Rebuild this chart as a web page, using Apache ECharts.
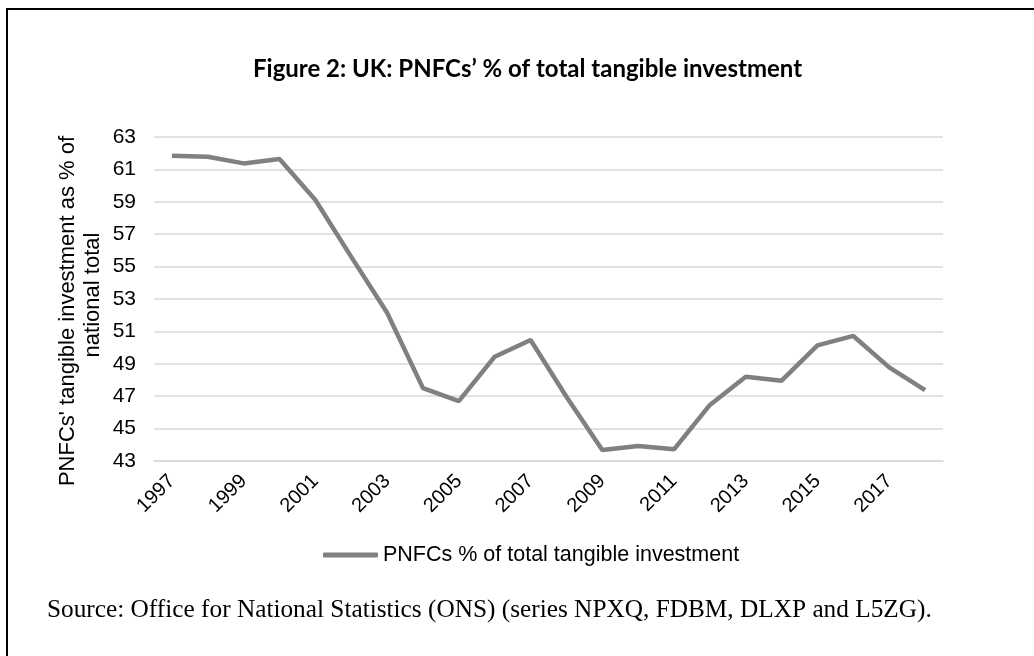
<!DOCTYPE html>
<html>
<head>
<meta charset="utf-8">
<script src="https://cdn.jsdelivr.net/npm/echarts@6/dist/echarts.min.js"></script>
<style>
  html, body { margin: 0; padding: 0; background: #fff; }
  #chart { width: 1034px; height: 656px; }
</style>
</head>
<body>
<div id="chart"></div>
<script>
const years = ['1997','1998','1999','2000','2001','2002','2003','2004','2005','2006','2007','2008','2009','2010','2011','2012','2013','2014','2015','2016','2017','2018'];
const pnfcShare = [61.85, 61.78, 61.37, 61.64, 59.11, 55.6, 52.15, 47.5, 46.7, 49.44, 50.47, 46.97, 43.68, 43.93, 43.72, 46.46, 48.2, 47.96, 50.14, 50.72, 48.78, 47.38];
const seriesName = 'PNFCs % of total tangible investment';
const titleText = 'Figure 2: UK: PNFCs\u2019 % of total tangible investment';
const yAxisNameLines = ["PNFCs' tangible investment as % of", 'national total'];
const sourceText = 'Source: Office for National Statistics (ONS) (series NPXQ, FDBM, DLXP and L5ZG).';

const chart = echarts.init(document.getElementById('chart'), null, { renderer: 'canvas' });
const sans = '"Liberation Sans", Arial, sans-serif';

chart.setOption({
  backgroundColor: '#ffffff',
  animation: false,
  title: {
    text: titleText,
    left: 248,
    top: 52,
    textStyle: { fontFamily: 'Lato', fontWeight: 'bold', fontSize: 24, color: '#000' }
  },
  legend: {
    data: [seriesName],
    left: 318,
    top: 539,
    icon: 'roundRect',
    itemWidth: 55,
    itemHeight: 5,
    itemGap: 5,
    itemStyle: { color: '#808080', borderWidth: 0 },
    textStyle: { fontFamily: sans, fontSize: 21.5, color: '#000' }
  },
  grid: { left: 154, right: 91, top: 137, bottom: 195, containLabel: false },
  xAxis: {
    type: 'category',
    data: years,
    boundaryGap: true,
    axisLine: { show: true, lineStyle: { color: '#d9d9d9', width: 1.5 } },
    axisTick: { show: false },
    axisLabel: {
      interval: 1,
      rotate: 45,
      margin: 17,
      fontFamily: sans,
      fontSize: 20,
      color: '#000'
    }
  },
  yAxis: {
    type: 'value',
    min: 43,
    max: 63,
    interval: 2,
    axisLine: { show: false },
    axisTick: { show: false },
    axisLabel: { margin: 18, fontFamily: sans, fontSize: 21, color: '#000' },
    splitLine: { show: true, lineStyle: { color: '#d9d9d9', width: 1.5 } }
  },
  series: [{
    name: seriesName,
    type: 'line',
    data: pnfcShare,
    symbol: 'none',
    lineStyle: { color: '#808080', width: 4.5 },
    itemStyle: { color: '#808080' }
  }],
  graphic: [
    {
      type: 'rect',
      shape: { x: 7, y: 9, width: 1200, height: 1200 },
      style: { fill: 'none', stroke: '#000', lineWidth: 2 },
      silent: true
    },
    {
      type: 'text',
      x: 68,
      y: 311,
      rotation: Math.PI / 2,
      style: {
        text: yAxisNameLines[0],
        fontFamily: sans,
        fontSize: 22,
        fill: '#000',
        align: 'center',
        verticalAlign: 'middle'
      },
      silent: true
    },
    {
      type: 'text',
      x: 93,
      y: 295,
      rotation: Math.PI / 2,
      style: {
        text: yAxisNameLines[1],
        fontFamily: sans,
        fontSize: 22,
        fill: '#000',
        align: 'center',
        verticalAlign: 'middle'
      },
      silent: true
    },
    {
      type: 'text',
      x: 47,
      y: 610,
      style: {
        text: sourceText,
        fontFamily: '"Liberation Serif", "Times New Roman", serif',
        fontSize: 25.3,
        fill: '#000',
        verticalAlign: 'middle'
      },
      silent: true
    }
  ]
});
</script>
</body>
</html>
